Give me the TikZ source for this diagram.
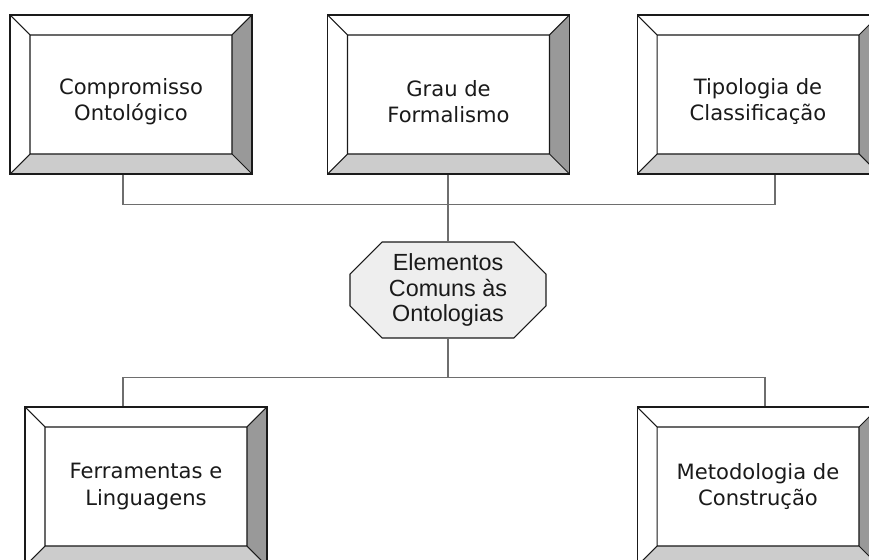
\documentclass[tikz,border=0pt]{standalone}
\usepackage{fontspec}
\usepackage{xcolor}
\usepackage{tikz}
\usetikzlibrary{shapes.misc}
\newfontfamily\boxfont{DejaVu Sans}
\newfontfamily\hubfont{Liberation Sans}
\definecolor{mapaInk}{HTML}{1A1A1A}
\definecolor{mapaShade}{HTML}{999999}
\definecolor{mapaTint}{HTML}{CCCCCC}
\definecolor{mapaHub}{HTML}{EEEEEE}
\definecolor{mapaBus}{HTML}{6E6E6E}
\tikzset{
    mapa/bevel/.style={
        rectangle, draw=mapaInk, fill=white, line width=0.6pt,
        minimum width=4.84cm, minimum height=3.18cm,
        align=center, text=mapaInk,
        font=\boxfont\fontsize{12pt}{15pt}\selectfont,
        path picture={
            \coordinate (pNW) at (path picture bounding box.north west);
            \coordinate (pNE) at (path picture bounding box.north east);
            \coordinate (pSW) at (path picture bounding box.south west);
            \coordinate (pSE) at (path picture bounding box.south east);
            \coordinate (iNW) at ([shift={(0.4cm,-0.4cm)}]pNW);
            \coordinate (iNE) at ([shift={(-0.4cm,-0.4cm)}]pNE);
            \coordinate (iSW) at ([shift={(0.4cm,0.4cm)}]pSW);
            \coordinate (iSE) at ([shift={(-0.4cm,0.4cm)}]pSE);
            \fill[mapaShade] (pNE) -- (iNE) -- (iSE) -- (pSE) -- cycle;
            \fill[mapaTint] (pSW) -- (iSW) -- (iSE) -- (pSE) -- cycle;
            \draw[mapaInk, line width=0.6pt]
                (iNW) rectangle (iSE)
                (pNW) -- (iNW) (pNE) -- (iNE)
                (pSW) -- (iSW) (pSE) -- (iSE);
        }
    },
    mapa/low text/.style={text height=32pt},
    mapa/hub/.style={
        chamfered rectangle, chamfered rectangle xsep=0.54cm,
        draw=mapaInk, fill=mapaHub, line width=0.6pt,
        minimum width=3.92cm, minimum height=1.92cm,
        align=center, text=mapaInk, inner sep=0pt,
        font=\hubfont\fontsize{13.3pt}{14.6pt}\selectfont
    },
    mapa/bus/.style={
        draw=mapaBus, line width=0.8pt
    }
}
\begin{document}
\begin{tikzpicture}[x=0.02cm, y=-0.02cm]
    \useasboundingbox (0,0) rectangle (869,560);
    \clip (0,0) rectangle (869,560);

    \node[mapa/bevel, mapa/low text] (compromisso) at (131,94.5)
        {Compromisso\\Ontológico};
    \node[mapa/bevel, mapa/low text] (grau) at (448.5,94.5)
        {Grau de\\Formalismo};
    \node[mapa/bevel, mapa/low text] (tipologia) at (758,94.5)
        {Tipologia de\\Classificação};
    \node[mapa/hub] (elementos) at (448,290)
        {Elementos\\Comuns às\\Ontologias};
    \node[mapa/bevel] (ferramentas) at (146,486.5)
        {Ferramentas e\\Linguagens};
    \node[mapa/bevel] (metodologia) at (758,486.5)
        {Metodologia de\\Construção};

    \draw[mapa/bus] ([xshift=-0.16cm]compromisso.south) -- ++(0,30)
        -| (elementos.north);
    \draw[mapa/bus] ([xshift=0.34cm]tipologia.south) -- ++(0,30)
        -| (elementos.north);
    \draw[mapa/bus] (grau.south -| elementos.north) -- (elementos.north);
    \draw[mapa/bus] (elementos.south) -- ++(0,39)
        -| ([xshift=-0.46cm]ferramentas.north);
    \draw[mapa/bus] (elementos.south) -- ++(0,39)
        -| ([xshift=0.14cm]metodologia.north);
\end{tikzpicture}
\end{document}
